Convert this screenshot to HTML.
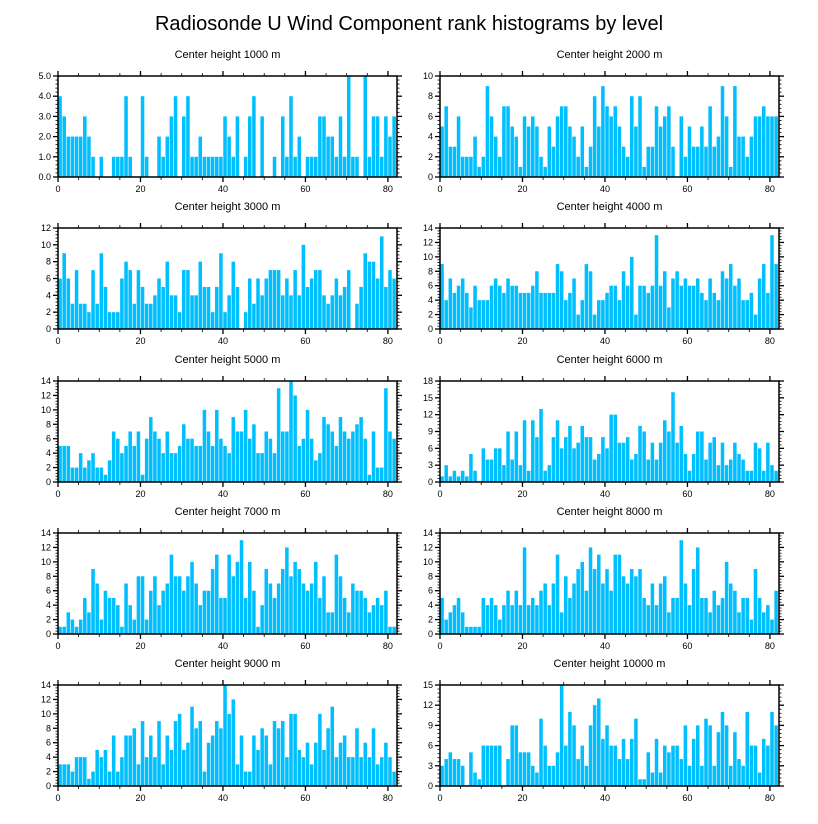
<!DOCTYPE html>
<html><head><meta charset="utf-8"><style>
html,body{margin:0;padding:0;background:#fff;}
svg{display:block;font-family:"Liberation Sans",sans-serif;}
</style></head><body>
<svg id="chart" width="818" height="824" viewBox="0 0 818 824">
<text x="409" y="30" text-anchor="middle" font-size="20">Radiosonde U Wind Component rank histograms by level</text>
</svg>
<script>
const titles = ["Center height 1000 m","Center height 2000 m","Center height 3000 m","Center height 4000 m","Center height 5000 m","Center height 6000 m","Center height 7000 m","Center height 8000 m","Center height 9000 m","Center height 10000 m"];
const yMax = [5,10,12,14,14,18,14,14,14,15];
const yStep = [1,2,2,2,2,3,2,2,2,3];
const xTicks = [0,20,40,60,80];
const h1000 = [4,3,2,2,2,2,3,2,1,0,1,0,0,1,1,1,4,1,0,0,4,1,0,0,2,1,2,3,4,0,3,4,1,1,2,1,1,1,1,1,3,2,1,3,0,1,3,4,0,3,0,0,1,0,3,1,4,1,2,0,1,1,1,3,3,2,2,1,3,1,5,1,1,0,5,1,3,3,1,3,2,3];
const h2000 = [5,7,3,3,6,2,2,2,4,1,2,9,6,4,2,7,7,5,4,1,6,5,6,5,2,1,5,3,6,7,7,5,4,2,5,1,3,8,5,9,7,6,7,5,3,2,8,5,8,1,3,3,7,5,6,7,3,0,6,2,5,3,3,5,3,7,3,4,9,6,1,9,4,4,2,4,6,6,7,6,6,6];
const h3000 = [6,9,6,3,7,3,3,2,7,3,9,5,2,2,2,6,8,7,3,7,5,3,3,4,6,5,8,4,4,2,7,7,4,4,8,5,5,2,5,9,2,4,8,5,0,2,6,3,6,4,6,7,7,7,4,6,4,7,4,10,5,6,7,7,4,3,4,6,4,5,7,0,3,5,9,8,8,6,11,5,7,6];
const h4000 = [9,4,7,5,6,7,5,3,6,4,4,4,6,7,6,5,7,6,6,5,5,5,6,8,5,5,5,5,9,8,4,5,7,2,4,9,8,2,4,4,5,6,6,4,8,6,10,2,6,6,5,6,13,6,8,3,7,8,6,7,6,6,7,5,4,7,5,4,8,7,9,6,7,4,4,5,2,7,9,5,13,9];
const h5000 = [5,5,5,2,2,4,2,3,4,2,2,1,3,7,6,4,5,7,5,7,1,6,9,7,6,4,7,4,4,5,8,6,6,5,5,10,7,5,10,6,5,4,9,7,7,10,6,8,4,4,7,6,4,13,7,7,14,12,5,6,10,6,3,4,9,8,7,5,9,7,6,7,8,9,6,1,7,2,2,13,7,6];
const h6000 = [1,3,1,2,1,2,1,5,2,0,6,4,4,6,6,3,9,4,9,3,11,2,11,8,13,2,3,8,11,6,8,10,6,7,10,8,8,4,5,8,6,12,12,7,7,8,4,5,10,9,4,7,4,7,11,9,16,7,10,5,2,5,9,9,4,7,8,3,7,3,4,7,5,4,2,2,7,6,2,7,3,2];
const h7000 = [1,1,3,2,1,2,5,3,9,7,2,6,5,5,4,1,7,4,2,8,8,2,6,8,4,6,7,11,8,8,6,8,10,7,4,6,6,9,11,5,5,11,8,10,13,5,10,6,1,4,9,7,5,7,9,12,8,10,9,7,6,7,10,5,8,3,3,11,8,5,3,7,6,6,5,3,4,5,4,6,1,1];
const h8000 = [5,2,3,4,5,3,1,1,1,1,5,4,5,4,2,4,6,4,6,4,12,4,5,4,6,7,4,7,11,3,8,5,7,9,10,6,12,9,11,7,9,6,11,11,8,7,9,8,9,5,4,7,4,7,8,3,5,5,13,7,4,9,12,5,5,3,6,4,5,10,7,6,3,5,5,2,9,5,3,4,2,6];
const h9000 = [3,3,3,2,4,4,4,1,2,5,4,5,2,7,2,4,7,7,8,3,9,4,7,4,9,3,7,5,9,10,5,6,11,8,9,2,6,7,9,8,14,10,12,3,7,2,2,7,5,8,7,3,9,8,9,4,10,10,5,4,6,3,6,10,5,8,11,4,6,7,4,4,8,4,6,4,8,3,4,6,4,2];
const h10000 = [3,4,5,4,4,3,0,5,2,1,6,6,6,6,6,0,4,9,9,5,5,5,3,2,10,6,3,3,5,15,6,11,9,4,6,3,9,12,13,7,9,6,6,4,7,4,7,10,1,1,5,2,7,2,6,5,6,6,4,9,3,7,9,3,10,9,3,8,11,9,3,8,4,3,11,6,6,2,7,6,11,9];
const series = [h1000,h2000,h3000,h4000,h5000,h6000,h7000,h8000,h9000,h10000];

const NS = "http://www.w3.org/2000/svg";
const svg = document.getElementById("chart");
function mk(tag, attrs, parent){const e=document.createElementNS(NS,tag);for(const k in attrs)e.setAttribute(k,attrs[k]);(parent||svg).appendChild(e);return e;}

const colX = [58, 440], rowY = [76, 228, 381, 533, 685];
const PW = 339, PH = 101, XMAX = 82.2;
series.forEach((vals, p) => {
  const left = colX[p%2], top = rowY[Math.floor(p/2)], bottom = top+PH, right = left+PW;
  const g = mk("g", {});
  
  
  const xs = v => left + v*(PW/XMAX);
  const ys = v => bottom - v*(PH/yMax[p]);
  const t = mk("text", {x:(left+right)/2, y:top-18, "text-anchor":"middle", "font-size":"11"}, g);
  t.textContent = titles[p];
  
  
  vals.forEach((v, i) => {
    if (v <= 0) return;
    const r = mk("rect", {x:xs(i)+0.3, y:ys(v), width:(PW/XMAX)-0.6, height:bottom-ys(v), fill:"#00BFFF"}, g);
    
    
  });
  // x ticks
  for (let v = 0; v <= 80; v += 5) {
    const major = v % 20 === 0, L = major ? 5 : 3;
    mk("line", {x1:xs(v), x2:xs(v), y1:bottom, y2:bottom+L, stroke:"#000", "stroke-width":major?1.3:0.8}, g);
    mk("line", {x1:xs(v), x2:xs(v), y1:top, y2:top-L, stroke:"#000", "stroke-width":major?1.3:0.8}, g);
  }
  xTicks.forEach(v => {
    const lt = mk("text", {x:xs(v), y:bottom+15, "text-anchor":"middle", "font-size":"9"}, g);
    lt.textContent = v;
    
    
  });
  // y ticks
  const st = yStep[p], minor = st/5;
  for (let k = 0; k*minor <= yMax[p]+1e-9; k++) {
    const v = k*minor, major = k % 5 === 0, L = major ? 5 : 2.5;
    mk("line", {x1:left, x2:left-L, y1:ys(v), y2:ys(v), stroke:"#000", "stroke-width":major?1.3:0.8}, g);
    mk("line", {x1:right, x2:right+L, y1:ys(v), y2:ys(v), stroke:"#000", "stroke-width":major?1.3:0.8}, g);
    if (major) {
      const lt = mk("text", {x:left-7, y:ys(v)+3, "text-anchor":"end", "font-size":"9"}, g);
      lt.textContent = p === 0 ? v.toFixed(1) : String(Math.round(v));
      
      
    }
  }
  mk("rect", {x:left, y:top, width:PW, height:PH, fill:"none", stroke:"#000", "stroke-width":1.5}, g);
});
</script>
</body></html>
